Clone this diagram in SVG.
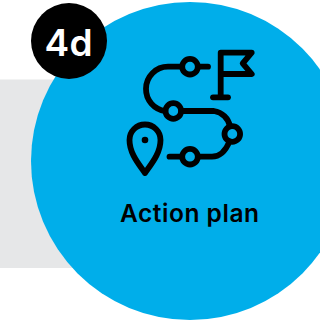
<svg xmlns="http://www.w3.org/2000/svg" width="320" height="322" viewBox="0 0 320 322">
<style>
.i{fill:none;stroke:#000;stroke-width:5.800;stroke-linecap:round;stroke-linejoin:round}
text{font-family:"Inter","Liberation Sans",sans-serif}
</style>
<rect width="320" height="322" fill="#fff"/>
<rect id="band" x="0" y="79.500" width="120" height="188.500" fill="#e6e7e8"/>
<circle id="disc" cx="190" cy="161" r="159" fill="#00aeea"/>
<g id="badge">
<circle cx="69" cy="41" r="38" fill="#000"/>
<text x="44.500" y="56" font-size="37" font-weight="600" fill="#fff" letter-spacing="0.300">4d</text>
</g>
<g id="icon" class="i">
<circle cx="190" cy="66.700" r="7.800"/>
<circle cx="173.300" cy="111" r="7.800"/>
<circle cx="232.300" cy="134" r="7.800"/>
<circle cx="190" cy="156.700" r="7.800"/>
<path d="M182 66.700H168A22 22 0 0 0 146 88.800A22 22 0 0 0 165.300 111"/>
<path d="M198 66.700H208"/>
<path d="M181.300 111H214A19 19 0 0 1 230 126.300"/>
<path d="M229.500 141.500C226 150 220 156.700 212 156.700H198"/>
<path d="M182 156.700H169.500"/>
<path d="M220.700 97V52.700H251.700L242.700 63.300L251.700 74H220.700"/>
<path d="M213 97.300H228"/>
<path d="M145 173C138 163 129.500 153 129.500 140A15.500 15.500 0 0 1 160.500 140C160.500 153 152 163 145 173Z"/>
<circle cx="145" cy="140" r="3.300" fill="#000" stroke="none"/>
</g>
<text id="label" x="189.500" y="221.500" text-anchor="middle" font-size="24.500" font-weight="600" fill="#000" textLength="139" lengthAdjust="spacing">Action plan</text>
</svg>
